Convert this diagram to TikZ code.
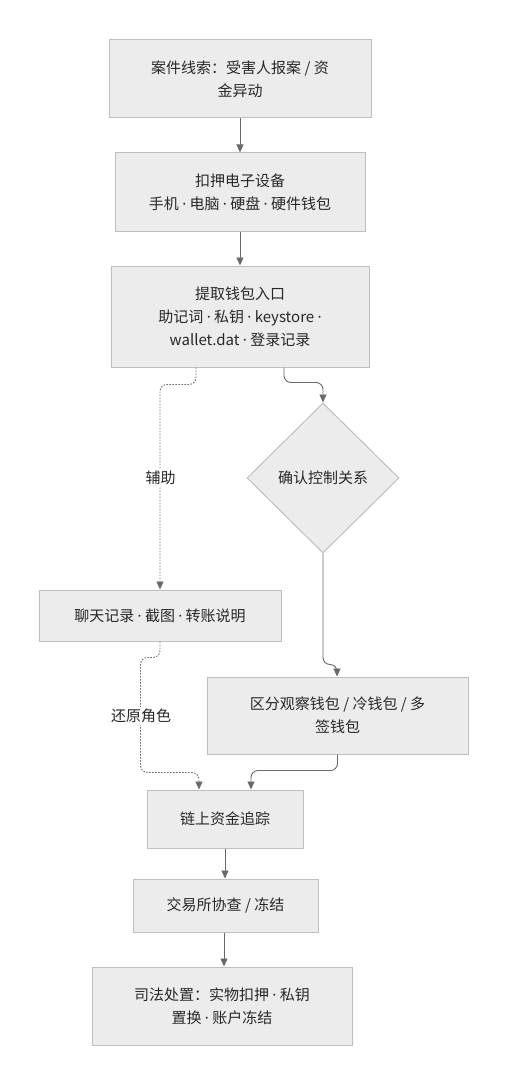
\documentclass[tikz,border=0pt]{standalone}
\usepackage{fontspec}
\setmainfont{Noto Sans CJK SC}
\newfontfamily\latf{Noto Sans}
\newcommand\mdot{{\latf ·}}
\usetikzlibrary{arrows.meta,shapes.geometric,calc}
\definecolor{boxfill}{RGB}{236,236,236}
\definecolor{boxline}{RGB}{190,190,190}
\definecolor{txt}{RGB}{40,40,40}
\definecolor{arrc}{RGB}{105,105,105}
\begin{document}
\begin{tikzpicture}[x=1pt,y=-1pt,
  box/.style={draw=boxline, fill=boxfill, line width=1pt, align=center, inner sep=0pt,
    text=txt, font=\fontsize{15}{23}\selectfont},
  dia/.style={box, shape=diamond, aspect=1},
  arr/.style={draw=arrc, line width=0.9pt, -{Triangle[length=8pt,width=7pt]}, rounded corners=7pt},
  dotarr/.style={arr, dash pattern=on 1.5pt off 1.5pt},
  lab/.style={fill=white, text=txt, inner sep=2pt, font=\fontsize{15}{18}\selectfont}
]
\useasboundingbox (0,0) rectangle (507,1086);

\node[box, minimum width=262pt, minimum height=78pt] (b1) at (240,79) {案件线索：受害人报案 / 资\\金异动};
\node[box, minimum width=250pt, minimum height=78pt] (b2) at (240,192) {扣押电子设备\\手机 \mdot{} 电脑 \mdot{} 硬盘 \mdot{} 硬件钱包};
\node[box, minimum width=258pt, minimum height=101pt] (b3) at (240,316.5) {提取钱包入口\\助记词 \mdot{} 私钥 \mdot{} keystore \mdot\\wallet.dat \mdot{} 登录记录};
\node[dia, minimum width=152pt, minimum height=150pt] (d) at (323,478) {确认控制关系};
\node[box, minimum width=242pt, minimum height=51pt] (chat) at (160,615.5) {聊天记录 \mdot{} 截图 \mdot{} 转账说明};
\node[box, minimum width=261pt, minimum height=77pt] (sep) at (337.5,715.5) {区分观察钱包 / 冷钱包 / 多\\签钱包};
\node[box, minimum width=156pt, minimum height=58pt] (trace) at (225,819) {链上资金追踪};
\node[box, minimum width=185pt, minimum height=53pt] (ex) at (225.5,905.5) {交易所协查 / 冻结};
\node[box, minimum width=260pt, minimum height=78pt] (law) at (222,1006) {司法处置：实物扣押 \mdot{} 私钥\\置换 \mdot{} 账户冻结};

\draw[arr] (b1) -- (b2);
\draw[arr] (b2) -- (b3);
\draw[dotarr] ([xshift=-44pt]b3.south) -- ++(0,17) -| (chat.north);
\node[lab] (l1) at (160.5,478) {辅助};
\draw[arr] ([xshift=44pt]b3.south) -- ++(0,15) -| (d.north);
\draw[dotarr] (chat.south) -- ++(0,16) -| ++(-19.5,115) -| ([xshift=-26pt]trace.north);
\node[lab] (l2) at (141,716) {还原角色};
\draw[arr] (d.south) -- ++(0,111) -| ([xshift=-0.5pt]sep.north);
\draw[arr] (sep.south) -- ++(0,16) -| ([xshift=26pt]trace.north);
\draw[arr] (trace) -- (ex.north -| trace);
\draw[arr] (ex.south -| 224,0) -- (law.north -| 224,0);
\end{tikzpicture}
\end{document}
